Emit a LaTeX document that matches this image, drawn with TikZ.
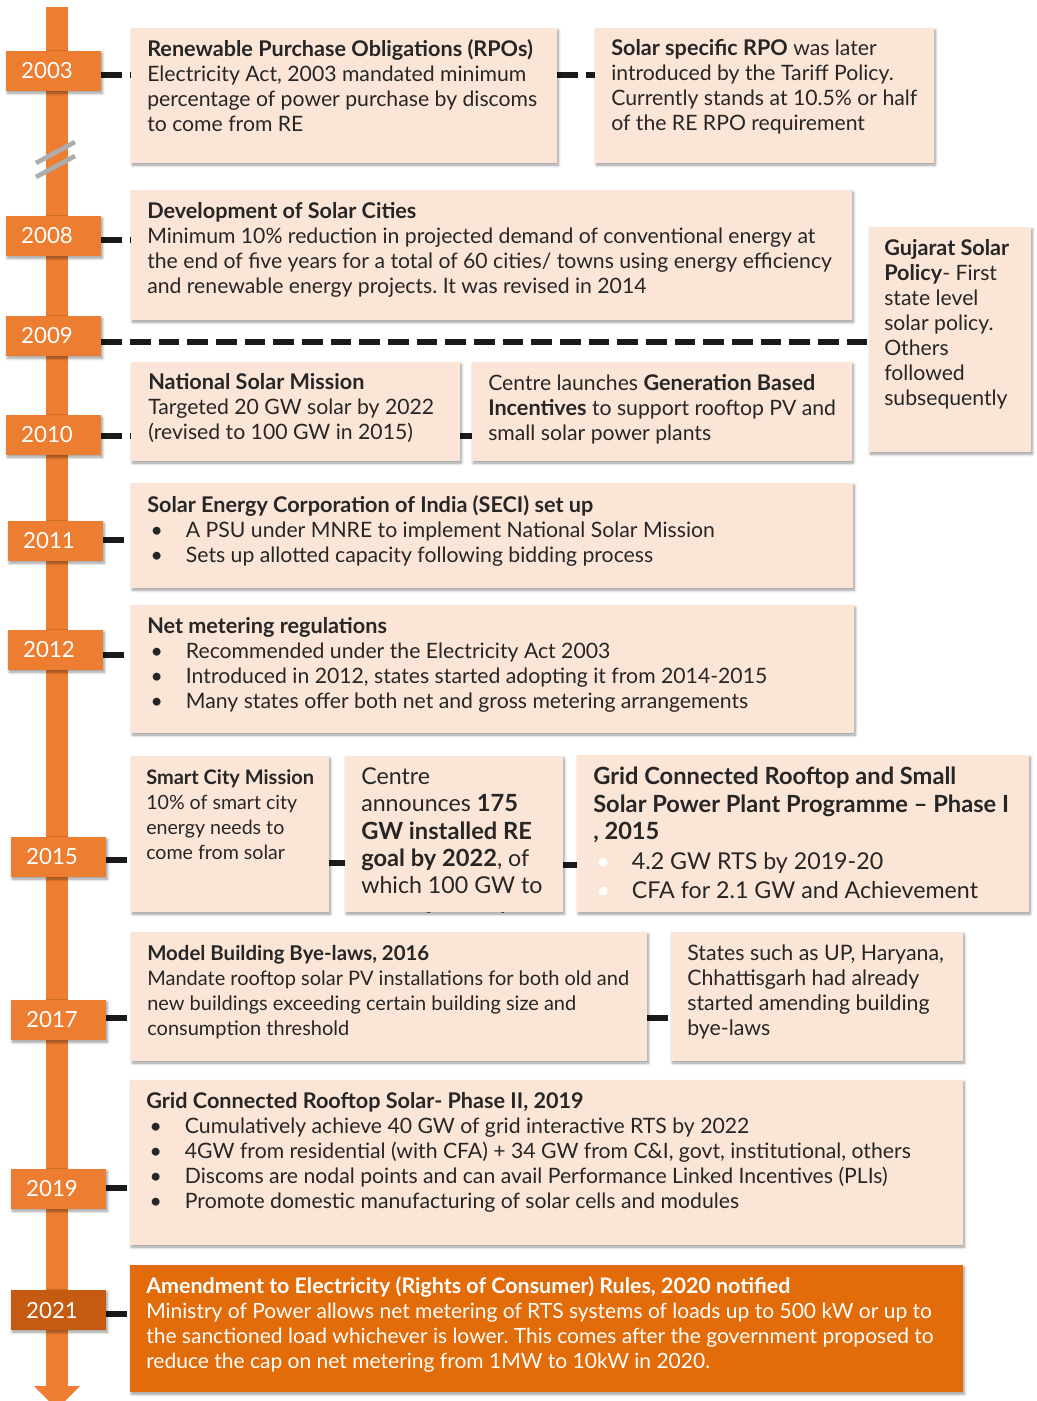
\documentclass[tikz,border=0pt]{standalone}
\usepackage{fontspec}
\setmainfont{Lato}
\usetikzlibrary{fit,backgrounds,shadows.blur}
\frenchspacing

\definecolor{tlorange}{HTML}{ED7D31}
\definecolor{yeardark}{HTML}{C55A11}
\definecolor{cardfill}{HTML}{FBE5D6}
\definecolor{amendfill}{HTML}{E36C0A}
\definecolor{ink}{HTML}{262626}
\definecolor{linkc}{HTML}{1A1A1A}
\definecolor{breakgray}{HTML}{ADADAD}

% bullets: a fixed-width slot so that the item text lines up
\newcommand\bul{\makebox[29pt][l]{\hspace{2.5pt}\textbullet}}
\newcommand\wbul{\makebox[29pt][l]{\hspace{2.5pt}\textcolor{white}{\textbullet}}}

% bold run, set a touch larger than the surrounding text
\makeatletter
\newcommand\tb[1]{{\fontsize{\strip@pt\dimexpr\f@size pt*102/100\relax}{\f@baselineskip}\selectfont\bfseries #1}}
\makeatother

\tikzset{
  softshadow/.style={blur shadow={shadow xshift=1pt, shadow yshift=-1.6pt,
      shadow blur radius=2pt, shadow blur steps=6, shadow opacity=40}},
  card/.style={fill=cardfill, draw=none, inner sep=0pt, softshadow},
  yearbox/.style={fill=tlorange, text=white, minimum width=71.25pt,
      minimum height=30pt, inner sep=0pt, softshadow,
      font=\fontsize{16.7}{19}\selectfont,
      execute at begin node=\hspace{-9.75pt}},
  conn/.style={draw=linkc, line width=4pt, dash pattern=on 15.5pt off 6pt},
  txt/.style={anchor=north west, inner sep=0pt, align=left, text=ink,
      font=\fontsize{15.9}{18.75}\selectfont},
  smalltxt/.style={txt, font=\fontsize{14.7}{18.75}\selectfont},
  midtxt/.style={txt, font=\fontsize{16}{18.75}\selectfont},
  bigtxt/.style={txt, font=\fontsize{17.4}{20.6}\selectfont},
  breakline/.style={draw=breakgray, line width=3.5pt},
}

\begin{document}
\begin{tikzpicture}[x=0.75pt,y=-0.75pt]
\useasboundingbox (0,0) rectangle (1037,1401);

% ---- event cards ----
\node[card, fit={(131,28)(557,163)}] (rpo) {};
\node[card, fit={(595,28)(934,163)}] (srpo) {};
\node[card, fit={(131,190)(852,320)}] (cities) {};
\node[card, fit={(869,227)(1031,452)}] (guj) {};
\node[card, fit={(131,362)(460,461)}] (nsm) {};
\node[card, fit={(472,362)(852,461)}] (gbi) {};
\node[card, fit={(131,483)(853,588)}] (seci) {};
\node[card, fit={(131,605)(854,733)}] (netm) {};
\node[card, fit={(131,756)(329,912)}] (smart) {};
\node[card, fit={(345,756)(563,912)}] (goal) {};
\node[card, fit={(577,755)(1029,912)}] (gcr1) {};
\node[card, fit={(131,932)(647,1061)}] (mbbl) {};
\node[card, fit={(671,932)(963,1061)}] (states) {};
\node[card, fit={(130,1080)(963,1245)}] (gcr2) {};
\node[card, fill=amendfill, fit={(130,1265)(963,1392)}] (amend) {};

% ---- year markers ----
\node[yearbox] (y2003) at (53.5,71) {2003};
\node[yearbox] (y2008) at (53.5,236) {2008};
\node[yearbox] (y2009) at (53.5,336) {2009};
\node[yearbox] (y2010) at (53.5,435) {2010};
\node[yearbox] (y2011) at (55.5,541) {2011};
\node[yearbox] (y2012) at (55.5,650) {2012};
\node[yearbox] (y2015) at (58.5,857) {2015};
\node[yearbox] (y2017) at (58.5,1020) {2017};
\node[yearbox] (y2019) at (58.5,1189) {2019};
\node[yearbox, fill=yeardark] (y2021) at (58.5,1310) {2021};

% heights of the connector lines
\coordinate (h2003) at (0,75);
\coordinate (h2008) at (0,240);
\coordinate (h2009) at (0,342);
\coordinate (h2010) at (0,436);
\coordinate (h2011) at (0,540);
\coordinate (h2012) at (0,655);
\coordinate (h2015) at (0,860);
\coordinate (h2015b) at (0,863);
\coordinate (h2015c) at (0,865);
\coordinate (h2017) at (0,1018);
\coordinate (h2019) at (0,1188);
\coordinate (h2021) at (0,1314);

\begin{scope}[on background layer]
  % timeline shaft with arrow head
  \fill[tlorange] (46,7) rectangle (68,1387);
  \fill[tlorange] (34,1386) -- (80,1386) -- (57,1409) -- cycle;
  % break mark between 2003 and 2008
  \draw[breakline] (36,163) -- (75,142);
  \draw[breakline] (36,177) -- (75,156);
  % dashed links
  \draw[conn] (y2003.east |- h2003) -- (rpo.west |- h2003);
  \draw[conn] (rpo.east |- h2003) -- (srpo.west |- h2003);
  \draw[conn] (y2008.east |- h2008) -- (cities.west |- h2008);
  \draw[conn] (y2009.east |- h2009) -- (guj.west |- h2009);
  \draw[conn] (y2010.east |- h2010) -- (nsm.west |- h2010);
  \draw[conn] (nsm.east |- h2010) -- (gbi.west |- h2010);
  \draw[conn] (y2011.east |- h2011) -- (seci.west |- h2011);
  \draw[conn] (y2012.east |- h2012) -- (netm.west |- h2012);
  \draw[conn] (y2015.east |- h2015) -- (smart.west |- h2015);
  \draw[conn] (smart.east |- h2015b) -- (goal.west |- h2015b);
  \draw[conn] (goal.east |- h2015c) -- (gcr1.west |- h2015c);
  \draw[conn] (y2017.east |- h2017) -- (mbbl.west |- h2017);
  \draw[conn] (mbbl.east |- h2017) -- (states.west |- h2017);
  \draw[conn] (y2019.east |- h2019) -- (gcr2.west |- h2019);
  \draw[conn] (y2021.east |- h2021) -- (amend.west |- h2021);
\end{scope}

% ---- card texts ----
\node[txt] (trpo) at (147,39) {\tb{Renewable Purchase Obligations (RPOs)}\\
  Electricity Act, 2003 mandated minimum\\
  percentage of power purchase by discoms\\
  to come from RE};

\node[txt] (tsrpo) at (611,39) {\tb{Solar specific RPO} was later\\
  introduced by the Tariff Policy.\\
  Currently stands at 10.5\% or half\\
  of the RE RPO requirement};

\node[txt] (tcities) at (147,202) {\tb{Development of Solar Cities}\\
  Minimum 10\% reduction in projected demand of conventional energy at\\
  the end of five years for a total of 60 cities/ towns using energy efficiency\\
  and renewable energy projects. It was revised in 2014};

\node[txt] (tguj) at (884,239) {\tb{Gujarat Solar}\\
  \tb{Policy}- First\\ state level\\ solar policy.\\ Others\\ followed\\ subsequently};

\node[txt] (tnsm) at (148,373) {\tb{National Solar Mission}\\
  Targeted 20 GW solar by 2022\\
  (revised to 100 GW in 2015)};

\node[txt] (tgbi) at (488,374) {Centre launches \tb{Generation Based}\\
  \tb{Incentives} to support rooftop PV and\\
  small solar power plants};

\node[txt] (tseci) at (147,495) {\tb{Solar Energy Corporation of India (SECI) set up}\\
  \bul A PSU under MNRE to implement National Solar Mission\\
  \bul Sets up allotted capacity following bidding process};

\node[txt] (tnetm) at (147,617) {\tb{Net metering regulations}\\
  \bul Recommended under the Electricity Act 2003\\
  \bul Introduced in 2012, states started adopting it from 2014-2015\\
  \bul Many states offer both net and gross metering arrangements};

\node[smalltxt] (tsmart) at (146,769) {\tb{Smart City Mission}\\
  10\% of smart city\\ energy needs to\\ come from solar};

\begin{scope}
  \clip (goal.south west) rectangle (goal.north east);
  \node[bigtxt] (tgoal) at (361,767) {Centre\\
    announces \tb{175}\\
    \tb{GW installed RE}\\
    \tb{goal by 2022}, of\\
    which 100 GW to\\[6pt]
    come from solar};
\end{scope}

\node[bigtxt] (tgcr1) at (593,767) {\tb{Grid Connected Rooftop and Small}\\
  \tb{Solar Power Plant Programme – Phase I}\\
  \tb{, 2015}\\[1.5pt]
  \wbul 4.2 GW RTS by 2019-20\\[1.5pt]
  \wbul CFA for 2.1 GW and Achievement};

\node[txt, font=\fontsize{15}{18.75}\selectfont] (tmbbl) at (147,945) {\tb{Model Building Bye-laws, 2016}\\
  Mandate rooftop solar PV installations for both old and\\
  new buildings exceeding certain building size and\\
  consumption threshold};

\node[midtxt] (tstates) at (687,945) {States such as UP, Haryana,\\
  Chhattisgarh had already\\
  started amending building\\
  bye-laws};

\node[txt] (tgcr2) at (146,1092) {\tb{Grid Connected Rooftop Solar- Phase II, 2019}\\
  \bul Cumulatively achieve 40 GW of grid interactive RTS by 2022\\
  \bul 4GW from residential (with CFA) + 34 GW from C\&I, govt, institutional, others\\
  \bul Discoms are nodal points and can avail Performance Linked Incentives (PLIs)\\
  \bul Promote domestic manufacturing of solar cells and modules};

\node[txt, text=white, font=\fontsize{15.75}{18.75}\selectfont] (tamend) at (146,1276) {\tb{Amendment to Electricity (Rights of Consumer) Rules, 2020 notified}\\
  Ministry of Power allows net metering of RTS systems of loads up to 500 kW or up to\\
  the sanctioned load whichever is lower. This comes after the government proposed to\\
  reduce the cap on net metering from 1MW to 10kW in 2020.};

\end{tikzpicture}
\end{document}
